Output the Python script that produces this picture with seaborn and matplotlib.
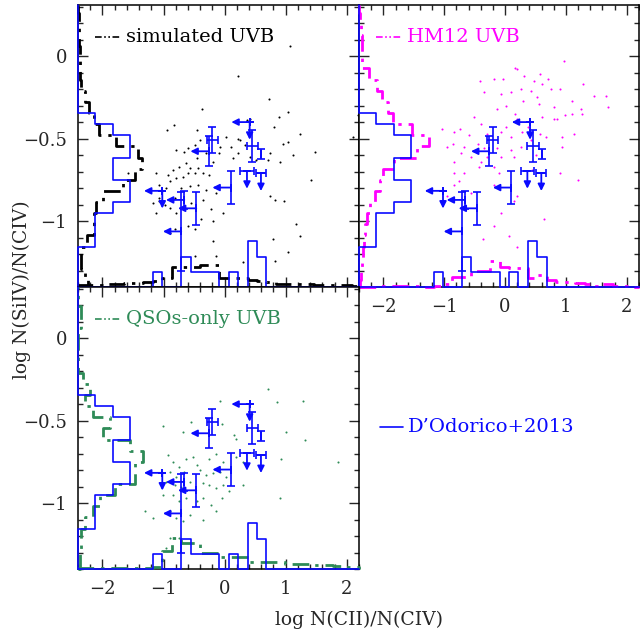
import numpy as np
import pandas as pd
import matplotlib
matplotlib.use("Agg")
import matplotlib.pyplot as plt
from matplotlib.ticker import MultipleLocator, FuncFormatter
import seaborn as sns

# ---------------- data ----------------
XLIM = (-2.4, 2.2)
YLIM = (-1.4, 0.31)

# histogram bin grids
y_bin_start, y_bin_width, n_ybins = -1.425, 0.0675, 26
x_bin_start, x_bin_width, n_xbins = -2.415, 0.155, 30

# D'Odorico+2013 observed histograms (counts)
obs_y_counts = [0, 0, 0, 0, 1, 1, 1, 2, 3, 3, 2, 2, 3, 3, 2, 1, 0, 0, 0, 0, 0, 0, 0, 0, 0, 0]
obs_x_counts = [0, 0, 0, 0, 0, 0, 0, 0, 1, 0, 0, 2, 1, 1, 1, 0, 1, 0, 3, 2,
                0, 0, 0, 0, 0, 0, 0, 0, 0, 0]
obs_y_scale = 0.285   # x-units per count
obs_x_scale = 0.092   # y-units per count

# simulated histograms (heights in axis units)
sim_y = [0.16, 0.11, 0.055, 0.055, 0.14, 0.27, 0.27, 0.30, 0.41, 0.73, 0.93, 1.04, 0.98,
         0.63, 0.34, 0.27, 0.18, 0.11, 0.055, 0.04, 0.03, 0.025, 0.02, 0.015, 0.01, 0.005]
sim_x = [0.012, 0.012, 0.012, 0.018, 0.018, 0.024, 0.024, 0.03, 0.036, 0.054, 0.12, 0.12,
         0.12, 0.133, 0.133, 0.054, 0.054, 0.054, 0.042, 0.036, 0.03, 0.018, 0.018, 0.018,
         0.018, 0.012, 0.012, 0.012, 0.012, 0.006]
hm_y = [0.016, 0.033, 0.049, 0.066, 0.082, 0.098, 0.126, 0.18, 0.262, 0.344, 0.393, 0.574,
        0.946, 1.148, 0.864, 0.562, 0.475, 0.372, 0.29, 0.164, 0.044, 0.044, 0.044, 0.025,
        0.016, 0.008]
hm_x = [0.003, 0.003, 0.006, 0.006, 0.009, 0.006, 0.006, 0.003, 0.006, 0.018, 0.058, 0.058,
        0.095, 0.095, 0.157, 0.12, 0.114, 0.114, 0.054, 0.072, 0.042, 0.03, 0.03, 0.024,
        0.016, 0.006, 0.016, 0.006, 0.006, 0.003]
qso_y = [0.03, 0.03, 0.055, 0.055, 0.11, 0.25, 0.36, 0.60, 0.93, 0.93, 1.07, 0.85, 0.41,
         0.53, 0.25, 0.11, 0.20, 0.08, 0, 0, 0, 0, 0.055, 0.055, 0, 0]
qso_x = [0.006] * 8 + [0.012, 0.108, 0.19, 0.16, 0.16, 0.10, 0.10, 0.072, 0.07, 0.07, 0.042,
                      0.042, 0.042, 0.042, 0.03, 0.03, 0.03, 0.024, 0.024, 0.018, 0.012, 0.012]

# simulated absorbers (log CII/CIV, log SiIV/CIV)
sim_px = [0.22, 0.72, -0.37, 1.04, 0.89, 0.41, 0.36, -0.83, 0.81, -0.94, -0.46, 1.23, 2.10,
          0.03, 0.22, -0.41, -0.08, 0.25, 0.33, 0.11, 0.96, 1.04, -0.49, -0.60, -0.79, -0.66,
          0.74, 1.12, -0.30, -0.09, 0.22, 0.41, 0.14, -0.63, -0.46, -0.19, -0.74, -0.85, -0.57,
          -0.44, -0.36, -0.60, -0.49, -0.25, -1.13, -0.93, -0.79, -0.68, -0.90, 1.48, 0.90,
          0.71, 0.52, 1.42, -1.58, -0.96, -0.71, -1.07, -0.57, -0.44, -0.30, -0.14, 0.74, 0.82,
          0.98, -1.17, -1.07, -0.90, -1.12, -0.79, -0.36, -0.22, -0.03, -0.19, -0.38, -0.60,
          -0.49, -0.82, -0.90, 1.17, 1.23, -0.19, 0.79, -1.07, -0.98, -0.55, -0.82, 1.07, 2.19,
          1.04, 0.82, -0.49, -0.14, 0.30]
sim_py = [-0.12, -0.26, -0.32, -0.34, -0.37, -0.38, -0.39, -0.42, -0.43, -0.45, -0.45, -0.47,
          -0.49, -0.49, -0.50, -0.51, -0.55, -0.51, -0.54, -0.55, -0.53, -0.52, -0.54, -0.56,
          -0.57, -0.58, -0.59, -0.60, -0.59, -0.59, -0.59, -0.61, -0.62, -0.65, -0.62, -0.64,
          -0.67, -0.69, -0.68, -0.68, -0.71, -0.71, -0.71, -0.72, -0.71, -0.72, -0.74, -0.73,
          -0.76, -0.58, -0.64, -0.63, -0.63, -0.75, -0.71, -0.80, -0.80, -0.78, -0.79, -0.78,
          -0.81, -0.83, -0.85, -0.87, -0.88, -0.89, -0.88, -0.92, -0.95, -0.95, -0.87, -0.93,
          -0.95, -1.00, -0.99, -1.03, -1.05, -1.05, -1.07, -1.02, -1.09, -1.12, -1.11, -0.86,
          -0.90, -0.89, -0.86, 0.06, -0.36, -1.19, -1.24, -1.21, -1.21, -1.25]

hm_px = [0.97, 0.17, 0.20, -0.41, -0.18, -0.04, 0.48, 0.71, 0.58, 0.61, 0.26, -0.34, -0.07,
         0.09, 0.75, 0.42, 1.28, 0.91, 1.46, 1.65, 0.52, 0.30, 1.10, 0.80, 1.24, 1.69, -0.14,
         0.01, 0.17, 0.61, 0.80, 0.86, 0.99, 1.27, 1.10, 0.20, -0.40, -0.74, -1.03, -0.84,
         -0.59, -0.29, -0.45, -0.86, -0.95, -0.67, -0.34, -0.13, 0.58, 0.42, 0.67, 0.94, 1.13,
         0.94, 0.09, 0.26, 0.50, -0.73, -0.84, -0.56, -0.40, -0.29, -0.07, -0.84, -0.67,
         -0.43, -0.18, -0.10, 0.15, -0.75, -0.84, -0.18, -0.56, -0.95, 0.20, 0.15, -0.07,
         -0.18, 0.64, -0.37, 0.07, 0.20, 0.45, 0.91, 1.19, 0.01, 0.37, 0.09, 0.28, -0.07,
         -0.51, 0.56, 0.31]
hm_py = [-0.03, -0.07, -0.08, -0.15, -0.14, -0.14, -0.15, -0.14, -0.11, -0.17, -0.20, -0.22,
         -0.23, -0.22, -0.20, -0.21, -0.17, -0.20, -0.24, -0.24, -0.25, -0.27, -0.27, -0.31,
         -0.32, -0.31, -0.32, -0.30, -0.35, -0.37, -0.38, -0.38, -0.36, -0.35, -0.35, -0.38,
         -0.41, -0.44, -0.44, -0.46, -0.48, -0.47, -0.53, -0.53, -0.55, -0.55, -0.56, -0.56,
         -0.47, -0.51, -0.49, -0.49, -0.47, -0.55, -0.57, -0.55, -0.60, -0.59, -0.64, -0.61,
         -0.64, -0.61, -0.61, -0.71, -0.71, -0.67, -0.67, -0.71, -0.61, -0.76, -0.78, -0.78,
         -0.83, -0.85, -0.85, -0.88, -0.95, -1.03, -0.99, -1.11, -1.09, -1.16, -0.69, -0.71,
         -0.75, -0.43, -0.43, -0.49, -0.46, -0.46, -0.37, -0.29, -0.12]

qso_px = [0.71, 0.85, 1.28, -0.07, -1.01, -0.55, -0.05, 1.01, 1.31, 0.16, 0.19, -0.68, -0.93,
          -0.85, -0.74, -0.63, -0.52, -0.46, -0.25, -0.14, -0.03, 0.19, 0.30, 0.93, 1.86,
          -0.90, -0.79, -0.66, -0.41, -0.30, -0.19, -0.08, 0.03, -0.96, -0.82, -0.71, -0.57,
          -0.36, -0.25, -0.14, -0.03, 0.30, -1.01, -0.85, -0.74, -0.63, -0.46, -0.36, -0.22,
          -0.05, 0.08, 0.90, -0.90, -0.79, -0.68, -0.57, -0.36, -0.14, -1.31, -1.17, -0.90,
          -0.74, -0.96]
qso_py = [-0.31, -0.39, -0.38, -0.38, -0.53, -0.51, -0.52, -0.57, -0.62, -0.59, -0.61, -0.57,
          -0.71, -0.75, -0.78, -0.73, -0.72, -0.77, -0.73, -0.70, -0.75, -0.72, -0.75, -0.73,
          -0.75, -0.81, -0.84, -0.81, -0.80, -0.83, -0.82, -0.81, -0.84, -0.87, -0.89, -0.90,
          -0.87, -0.88, -0.89, -0.91, -0.89, -0.89, -0.95, -0.95, -0.99, -0.97, -0.99, -0.97,
          -1.01, -0.97, -0.93, -0.97, -1.05, -1.09, -1.11, -1.07, -1.10, -1.05, -1.05, -1.09,
          -1.21, -1.21, -1.27]

# D'Odorico+2013 measurements
obs_x = [-0.20, -0.26, 0.41, 0.454, 0.60, 0.10, 0.366, 0.595, -1.02, -0.66, -0.464, -0.71]
obs_y = [-0.51, -0.577, -0.40, -0.546, -0.596, -0.797, -0.697, -0.711, -0.817, -0.872, -0.923, -1.063]
obs_xerr = [0.09, 0, 0, 0.095, 0, 0, 0.11, 0.085, 0, 0, 0, 0]
obs_yerr = [0.08, 0.09, 0, 0.095, 0.03, 0.10, 0, 0, 0, 0.055, 0.10, 0.24]
obs_xlim = [0, 1, 1, 0, 0, 1, 0, 0, 1, 1, 1, 1]
obs_ylim = [0, 0, 1, 0, 0, 0, 1, 1, 1, 0, 0, 0]

panels = [
    dict(name="simulated UVB", color="black", hy=sim_y, hx=sim_x, px=sim_px, py=sim_py),
    dict(name="HM12 UVB", color="#ff00ff", hy=hm_y, hx=hm_x, px=hm_px, py=hm_py),
    dict(name="QSOs-only UVB", color="#2e8b57", hy=qso_y, hx=qso_x, px=qso_px, py=qso_py),
]

BLUE = "#0a0aff"

# ---------------- style ----------------
sns.set_theme(style="ticks")
plt.rcParams["font.family"] = ["DejaVu Serif"]
plt.rcParams["axes.linewidth"] = 1.1

fig = plt.figure(figsize=(6.4, 6.31), dpi=100)
W, H = 281 / 640, 282 / 631
L1 = 78 / 640
B_top = 1 - 287 / 631
B_bot = 1 - 569 / 631
axes = [fig.add_axes([L1, B_top, W, H]),
        fig.add_axes([L1 + W, B_top, 280 / 640, H]),
        fig.add_axes([L1, B_bot, W, H])]

y_edges = np.clip(y_bin_start + y_bin_width * np.arange(n_ybins + 1), *YLIM)
x_edges = np.clip(x_bin_start + x_bin_width * np.arange(n_xbins + 1), *XLIM)


def left_hist(ax, heights, color, **kw):
    xs, ys = [XLIM[0]], [y_edges[0]]
    for i, h in enumerate(heights):
        xs += [XLIM[0] + h, XLIM[0] + h]
        ys += [y_edges[i], y_edges[i + 1]]
    xs.append(XLIM[0]); ys.append(y_edges[-1])
    ax.plot(xs, ys, color=color, clip_on=False, **kw)


def bottom_hist(ax, heights, color, **kw):
    xs, ys = [x_edges[0]], [YLIM[0]]
    for i, h in enumerate(heights):
        xs += [x_edges[i], x_edges[i + 1]]
        ys += [YLIM[0] + h, YLIM[0] + h]
    xs.append(x_edges[-1]); ys.append(YLIM[0])
    ax.plot(xs, ys, color=color, clip_on=False, **kw)


fmt = FuncFormatter(lambda v, pos: f"{v:g}".replace("-", "\u2212"))
dashdot = (0, (6, 2.5, 1.2, 2.5))
for idx, (ax, p) in enumerate(zip(axes, panels)):
    df = pd.DataFrame({"x": p["px"], "y": p["py"]})
    sns.scatterplot(data=df, x="x", y="y", ax=ax, color=p["color"], s=2.2,
                    linewidth=0, zorder=2)
    left_hist(ax, p["hy"], p["color"], lw=2.0, ls=dashdot, zorder=3)
    bottom_hist(ax, p["hx"], p["color"], lw=2.0, ls=dashdot, zorder=3)
    left_hist(ax, np.array(obs_y_counts) * obs_y_scale, BLUE, lw=1.2, zorder=4)
    bottom_hist(ax, np.array(obs_x_counts) * obs_x_scale, BLUE, lw=1.2, zorder=4)

    # observations
    ax.errorbar(obs_x, obs_y, xerr=obs_xerr, yerr=obs_yerr, fmt="none", ecolor=BLUE,
                elinewidth=1.2, capsize=3, capthick=1.2, zorder=5)
    for x, y, xl, yl in zip(obs_x, obs_y, obs_xlim, obs_ylim):
        if xl:
            ax.annotate("", xy=(x - 0.30, y), xytext=(x, y),
                        arrowprops=dict(arrowstyle="-|>", color=BLUE, lw=1.3,
                                        mutation_scale=10, shrinkA=0, shrinkB=0), zorder=5)
        if yl:
            ax.annotate("", xy=(x, y - 0.107), xytext=(x, y),
                        arrowprops=dict(arrowstyle="-|>", color=BLUE, lw=1.3,
                                        mutation_scale=10, shrinkA=0, shrinkB=0), zorder=5)

    ax.set_xlim(*XLIM)
    ax.set_ylim(*YLIM)
    ax.set_xlabel("")
    ax.set_ylabel("")
    ax.xaxis.set_major_locator(MultipleLocator(1))
    ax.xaxis.set_minor_locator(MultipleLocator(0.2))
    ax.yaxis.set_major_locator(MultipleLocator(0.5))
    ax.yaxis.set_minor_locator(MultipleLocator(0.1))
    ax.xaxis.set_major_formatter(fmt)
    ax.yaxis.set_major_formatter(fmt)
    ax.tick_params(which="both", direction="in", top=True, right=True, labelsize=13,
                   width=1.0, pad=8)
    ax.tick_params(which="major", length=7)
    ax.tick_params(which="minor", length=3.5)
    for s in ax.spines.values():
        s.set_visible(True)
        s.set_color("black")
    if idx == 0:
        ax.tick_params(labelbottom=False)
    if idx == 1:
        ax.tick_params(labelleft=False)

    # legend-like label
    ax.plot([0.062, 0.15], [0.885, 0.885], transform=ax.transAxes, color=p["color"],
            lw=1.2, ls=(0, (4, 1.5, 1, 1.5, 1, 1.5)))
    ax.text(0.172, 0.885, p["name"], transform=ax.transAxes, color=p["color"],
            fontsize=14, va="center", ha="left")

# D'Odorico legend in empty panel
fig.add_artist(plt.Line2D([380 / 640, 403 / 640], [1 - 427 / 631, 1 - 427 / 631],
                          color=BLUE, lw=1.2))
fig.text(408 / 640, 1 - 427 / 631, "D\u2019Odorico+2013", color=BLUE, fontsize=14,
         va="center", ha="left")

fig.text(22 / 640, 1 - 290 / 631, "log N(SiIV)/N(CIV)", rotation=90, fontsize=13.5,
         va="center", ha="center")
fig.text(359 / 640, 1 - 620 / 631, "log N(CII)/N(CIV)", fontsize=13.5,
         va="center", ha="center")

fig.savefig("out.png", dpi=100)
